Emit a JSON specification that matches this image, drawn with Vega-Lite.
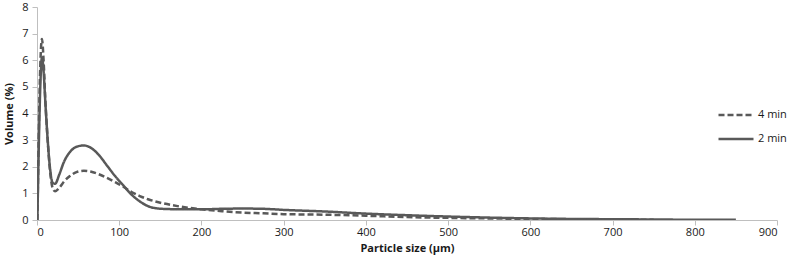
{
  "$schema": "https://vega.github.io/schema/vega-lite/v6.json",
  "width": 740,
  "height": 213,
  "autosize": {"type": "none"},
  "padding": {"left": 37, "top": 7, "right": 10, "bottom": 41},
  "background": "white",
  "config": {
    "view": {"stroke": null},
    "font": "Open Sans",
    "axis": {
      "grid": false,
      "domainColor": "#bfbfbf",
      "tickColor": "#bfbfbf",
      "tickSize": 5,
      "labelFont": "Open Sans",
      "labelFontSize": 11,
      "labelColor": "#1a1a1a",
      "titleFont": "Open Sans",
      "titleFontSize": 11,
      "titleFontWeight": "bold",
      "titleColor": "#1a1a1a"
    }
  },
  "data": {
    "values": [
      {"size": 0.5, "vol": 0, "series": "2 min"},
      {"size": 2, "vol": 2.5, "series": "2 min"},
      {"size": 4, "vol": 5.0, "series": "2 min"},
      {"size": 6, "vol": 6.1, "series": "2 min"},
      {"size": 8, "vol": 5.6, "series": "2 min"},
      {"size": 10, "vol": 4.5, "series": "2 min"},
      {"size": 13, "vol": 3.0, "series": "2 min"},
      {"size": 16, "vol": 1.9, "series": "2 min"},
      {"size": 19, "vol": 1.4, "series": "2 min"},
      {"size": 22, "vol": 1.36, "series": "2 min"},
      {"size": 27, "vol": 1.7, "series": "2 min"},
      {"size": 33, "vol": 2.2, "series": "2 min"},
      {"size": 40, "vol": 2.55, "series": "2 min"},
      {"size": 48, "vol": 2.75, "series": "2 min"},
      {"size": 57, "vol": 2.8, "series": "2 min"},
      {"size": 65, "vol": 2.72, "series": "2 min"},
      {"size": 75, "vol": 2.45, "series": "2 min"},
      {"size": 85, "vol": 2.05, "series": "2 min"},
      {"size": 95, "vol": 1.65, "series": "2 min"},
      {"size": 105, "vol": 1.3, "series": "2 min"},
      {"size": 115, "vol": 0.95, "series": "2 min"},
      {"size": 125, "vol": 0.7, "series": "2 min"},
      {"size": 135, "vol": 0.52, "series": "2 min"},
      {"size": 145, "vol": 0.44, "series": "2 min"},
      {"size": 160, "vol": 0.41, "series": "2 min"},
      {"size": 180, "vol": 0.4, "series": "2 min"},
      {"size": 200, "vol": 0.4, "series": "2 min"},
      {"size": 225, "vol": 0.42, "series": "2 min"},
      {"size": 250, "vol": 0.43, "series": "2 min"},
      {"size": 275, "vol": 0.42, "series": "2 min"},
      {"size": 300, "vol": 0.38, "series": "2 min"},
      {"size": 350, "vol": 0.32, "series": "2 min"},
      {"size": 400, "vol": 0.24, "series": "2 min"},
      {"size": 450, "vol": 0.18, "series": "2 min"},
      {"size": 500, "vol": 0.13, "series": "2 min"},
      {"size": 550, "vol": 0.09, "series": "2 min"},
      {"size": 600, "vol": 0.06, "series": "2 min"},
      {"size": 650, "vol": 0.04, "series": "2 min"},
      {"size": 700, "vol": 0.03, "series": "2 min"},
      {"size": 750, "vol": 0.02, "series": "2 min"},
      {"size": 800, "vol": 0.01, "series": "2 min"},
      {"size": 850, "vol": 0.01, "series": "2 min"},
      {"size": 0.5, "vol": 0, "series": "4 min"},
      {"size": 2, "vol": 3.0, "series": "4 min"},
      {"size": 4, "vol": 5.8, "series": "4 min"},
      {"size": 6, "vol": 6.8, "series": "4 min"},
      {"size": 8, "vol": 6.0, "series": "4 min"},
      {"size": 10, "vol": 4.6, "series": "4 min"},
      {"size": 13, "vol": 3.0, "series": "4 min"},
      {"size": 16, "vol": 1.8, "series": "4 min"},
      {"size": 19, "vol": 1.2, "series": "4 min"},
      {"size": 22, "vol": 1.08, "series": "4 min"},
      {"size": 27, "vol": 1.2, "series": "4 min"},
      {"size": 33, "vol": 1.45, "series": "4 min"},
      {"size": 40, "vol": 1.65, "series": "4 min"},
      {"size": 48, "vol": 1.8, "series": "4 min"},
      {"size": 57, "vol": 1.85, "series": "4 min"},
      {"size": 65, "vol": 1.82, "series": "4 min"},
      {"size": 75, "vol": 1.72, "series": "4 min"},
      {"size": 85, "vol": 1.58, "series": "4 min"},
      {"size": 95, "vol": 1.42, "series": "4 min"},
      {"size": 105, "vol": 1.25, "series": "4 min"},
      {"size": 115, "vol": 1.05, "series": "4 min"},
      {"size": 125, "vol": 0.9, "series": "4 min"},
      {"size": 135, "vol": 0.78, "series": "4 min"},
      {"size": 150, "vol": 0.65, "series": "4 min"},
      {"size": 175, "vol": 0.5, "series": "4 min"},
      {"size": 200, "vol": 0.4, "series": "4 min"},
      {"size": 225, "vol": 0.33, "series": "4 min"},
      {"size": 250, "vol": 0.28, "series": "4 min"},
      {"size": 275, "vol": 0.25, "series": "4 min"},
      {"size": 300, "vol": 0.22, "series": "4 min"},
      {"size": 350, "vol": 0.2, "series": "4 min"},
      {"size": 400, "vol": 0.16, "series": "4 min"},
      {"size": 450, "vol": 0.11, "series": "4 min"},
      {"size": 500, "vol": 0.08, "series": "4 min"},
      {"size": 550, "vol": 0.06, "series": "4 min"},
      {"size": 600, "vol": 0.04, "series": "4 min"},
      {"size": 650, "vol": 0.03, "series": "4 min"},
      {"size": 700, "vol": 0.02, "series": "4 min"},
      {"size": 750, "vol": 0.01, "series": "4 min"}
    ]
  },
  "mark": {"type": "line", "interpolate": "monotone", "strokeWidth": 2.5, "color": "#595959", "clip": true},
  "encoding": {
    "x": {
      "field": "size", "type": "quantitative",
      "scale": {"domain": [0, 900], "nice": false, "zero": true},
      "axis": {"values": [0, 100, 200, 300, 400, 500, 600, 700, 800, 900], "title": "Particle size (µm)", "labelPadding": 1, "titlePadding": 5}
    },
    "y": {
      "field": "vol", "type": "quantitative",
      "scale": {"domain": [0, 8], "nice": false},
      "axis": {"values": [0, 1, 2, 3, 4, 5, 6, 7, 8], "title": "Volume (%)", "labelPadding": 4, "titlePadding": 7}
    },
    "strokeDash": {
      "field": "series", "type": "nominal",
      "scale": {"domain": ["4 min", "2 min"], "range": [[6, 3], [1, 0]]},
      "legend": {
        "title": null,
        "orient": "none",
        "legendX": 680,
        "legendY": 89,
        "symbolType": "stroke",
        "symbolSize": 1225,
        "symbolStrokeColor": "#595959",
        "symbolStrokeWidth": 2.5,
        "labelFont": "Open Sans",
        "labelFontSize": 11,
        "labelColor": "#1a1a1a",
        "labelOffset": 3,
        "rowPadding": 0
      }
    }
  }
}
